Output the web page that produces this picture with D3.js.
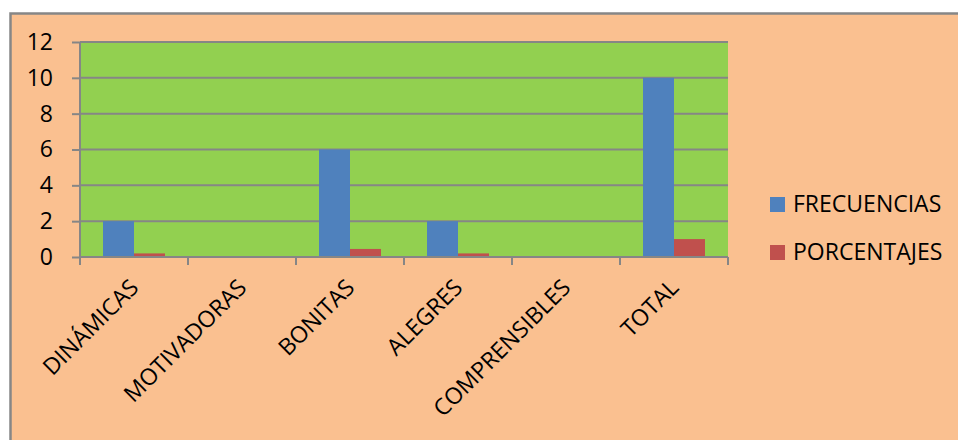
<!DOCTYPE html>
<html>
<head>
<meta charset="utf-8">
<script src="https://cdn.jsdelivr.net/npm/d3@7"></script>
<style>
  body { margin: 0; background: #fff; }
  text { font-family: "Open Sans", sans-serif; fill: #000; }
</style>
</head>
<body>
<div id="chart"></div>
<script>
// values
var categories = ["DINÁMICAS", "MOTIVADORAS", "BONITAS", "ALEGRES", "COMPRENSIBLES", "TOTAL"];
var frecuencias = [2, 0, 6, 2, 0, 10];
var porcentajes = [0.2, 0, 0.45, 0.2, 0, 1];
var seriesNames = ["FRECUENCIAS", "PORCENTAJES"];
var yTicks = [0, 2, 4, 6, 8, 10, 12];

var width = 958, height = 440;
var colors = ["#4F81BD", "#C0504D"];
var grey = "#868686";

var svg = d3.select("#chart").append("svg")
  .attr("width", width)
  .attr("height", height);

// chart area frame (runs off the right and bottom edges)
svg.append("rect")
  .attr("x", 10.5).attr("y", 13.5)
  .attr("width", 1000).attr("height", 500)
  .attr("fill", "#FAC090")
  .attr("stroke", grey)
  .attr("stroke-width", 2.5);

var plot = { left: 80, right: 728, top: 42, bottom: 257 };

var x = d3.scaleBand()
  .domain(categories)
  .range([plot.left, plot.right]);

var y = d3.scaleLinear()
  .domain([0, 12])
  .range([plot.bottom, plot.top]);

var barW = x.bandwidth() * 31 / 108;

svg.append("rect")
  .attr("x", plot.left).attr("y", plot.top)
  .attr("width", plot.right - plot.left)
  .attr("height", plot.bottom - plot.top)
  .attr("fill", "#92D050");

// gridlines
svg.append("g")
  .selectAll("line")
  .data(yTicks.filter(function(d){ return d > 0; }))
  .enter().append("line")
  .attr("x1", plot.left).attr("x2", plot.right)
  .attr("y1", function(d){ return y(d); })
  .attr("y2", function(d){ return y(d); })
  .attr("stroke", grey).attr("stroke-width", 2);

// bars
var groups = [frecuencias, porcentajes];
groups.forEach(function(vals, s){
  svg.append("g")
    .selectAll("rect")
    .data(vals)
    .enter().append("rect")
    .attr("x", function(d, i){ return x(categories[i]) + (x.bandwidth() - 2 * barW) / 2 + s * barW; })
    .attr("y", function(d){ return y(d); })
    .attr("width", barW)
    .attr("height", function(d){ return plot.bottom - y(d); })
    .attr("fill", colors[s]);
});

// y axis
var yAxis = svg.append("g")
  .attr("transform", "translate(" + plot.left + ",0)")
  .call(d3.axisLeft(y).tickValues(yTicks).tickSize(8).tickPadding(19));
yAxis.selectAll("line, path").attr("stroke", grey).attr("stroke-width", 2);
yAxis.select(".domain").attr("d", "M0," + plot.top + "V" + (plot.bottom + 8));
yAxis.selectAll("text")
  .style("font-family", "Open Sans, sans-serif")
  .style("font-size", "23px")
  .attr("fill", "#000");

// x axis: ticks at category boundaries
var xAxis = svg.append("g");
xAxis.append("line")
  .attr("x1", plot.left).attr("x2", plot.right)
  .attr("y1", plot.bottom).attr("y2", plot.bottom)
  .attr("stroke", grey).attr("stroke-width", 2);
xAxis.selectAll(".tk")
  .data(categories.concat(["end"]))
  .enter().append("line")
  .attr("class", "tk")
  .attr("x1", function(d, i){ return plot.left + i * x.step(); })
  .attr("x2", function(d, i){ return plot.left + i * x.step(); })
  .attr("y1", plot.bottom).attr("y2", plot.bottom + 8)
  .attr("stroke", grey).attr("stroke-width", 2);

xAxis.selectAll("text")
  .data(categories)
  .enter().append("text")
  .attr("transform", function(d){
    return "translate(" + (x(d) + x.bandwidth() / 2 + 6) + "," + (plot.bottom + 32) + ") rotate(-45)";
  })
  .attr("text-anchor", "end")
  .style("font-size", "23px")
  .text(function(d){ return d; });

// legend
var legend = svg.append("g");
seriesNames.forEach(function(name, i){
  var ly = 197 + i * 48;
  legend.append("rect")
    .attr("x", 770).attr("y", ly)
    .attr("width", 15).attr("height", 15)
    .attr("fill", colors[i]);
  legend.append("text")
    .attr("x", 793).attr("y", ly + 15)
    .style("font-size", "23px")
    .text(name);
});
</script>
</body>
</html>
